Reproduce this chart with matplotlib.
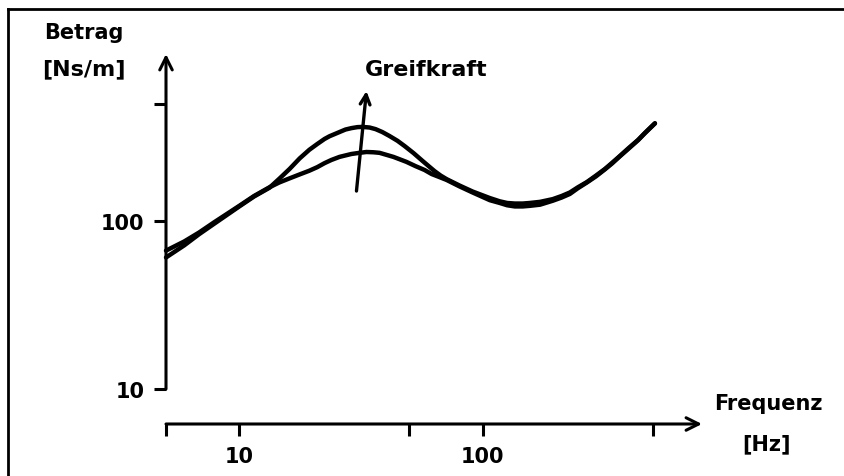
import matplotlib
matplotlib.use("Agg")
import matplotlib.pyplot as plt
from matplotlib.lines import Line2D

# ---- data ----
freq_hi = [5, 5.94, 6.84, 7.89, 10, 11.5, 13.3, 14.6, 16.1, 17.7,
           19.4, 20.9, 22.4, 23.5, 25.8, 27.3, 28.9, 30.6, 32.1, 34.3,
           36.3, 38.7, 41.4, 44.7, 47.8, 52.0, 56.6, 60.0, 63.4, 67.2,
           71.1, 80.3, 90.9, 107, 117.5, 126, 135.5, 146, 156, 172,
           194, 211, 228, 246, 268, 292, 318, 340, 366, 395,
           435, 464, 510]
betrag_hi = [61, 72, 84, 97, 123, 141, 159, 180, 206, 238,
             268, 290, 311, 323, 342, 354, 361, 366, 367, 364,
             356, 342, 324, 303, 282, 256, 230, 214, 200, 188,
             179, 164, 151, 138, 132, 129, 128, 128, 129, 131,
             136, 142, 149, 160, 172, 188, 206, 224, 246, 272,
             307, 338, 386]

freq_lo = [5, 5.94, 6.84, 7.89, 10, 11.5, 13.3, 14.6, 16.1, 17.7,
           19.4, 20.9, 22.4, 23.9, 25.8, 27.3, 28.9, 31.2, 33.3, 35.6,
           37.7, 43.0, 48.6, 53.0, 57.7, 61.7, 66.5, 71.1, 80.3, 90.9,
           107, 117.5, 126, 135.5, 146, 156, 172, 194, 211, 228,
           246, 268, 292, 318, 340, 366, 395, 435, 464, 510]
betrag_lo = [67, 76, 86, 99, 124, 142, 160, 171, 181, 191,
             201, 211, 223, 233, 243, 248, 253, 257, 260, 259,
             257, 243, 227, 214, 203, 192, 184, 177, 162, 149,
             134, 129, 125, 123, 123, 124, 126, 133, 139, 146,
             158, 171, 186, 205, 222, 245, 270, 306, 337, 385]

x_ticks = [5, 10, 50, 100, 500]
x_ticklabels = ["", "10", "", "100", ""]
y_ticks = [10, 100, 500]
y_ticklabels = ["10", "100", ""]

xlim = (5, 796)
ylim = (6.18, 1000)

W, H = 844, 477
fig = plt.figure(figsize=(W / 100, H / 100), dpi=100)
ax = fig.add_axes([166 / W, 1 - 425 / H, (702 - 166) / W, (425 - 55) / H])
ax.set_xscale("log")
ax.set_yscale("log")
ax.set_xlim(*xlim)
ax.set_ylim(*ylim)
for s in ax.spines.values():
    s.set_visible(False)
ax.patch.set_visible(False)

lw_axis = 2.2
ax.minorticks_off()
ax.set_xticks(x_ticks)
ax.set_xticklabels(x_ticklabels, fontsize=15, fontweight="bold")
ax.set_yticks(y_ticks)
ax.set_yticklabels(y_ticklabels, fontsize=15, fontweight="bold")
ax.tick_params(axis="both", which="major", direction="out", length=8.6,
               width=lw_axis, color="black", labelcolor="black")
ax.tick_params(axis="x", pad=7)
ax.tick_params(axis="y", pad=7)
ax.minorticks_off()

# axis lines with open arrow heads
arrow_kw = dict(arrowstyle="->,head_length=0.9,head_width=0.45", lw=lw_axis,
                color="black", shrinkA=0, shrinkB=0)
ax.annotate("", xy=(xlim[0], ylim[1]), xytext=(xlim[0], 10),
            arrowprops=arrow_kw, annotation_clip=False)
ax.annotate("", xy=(xlim[1], ylim[0]), xytext=(xlim[0], ylim[0]),
            arrowprops=arrow_kw, annotation_clip=False)

# curves
ax.plot(freq_hi, betrag_hi, color="black", lw=3.2, solid_capstyle="round",
        solid_joinstyle="round", clip_on=False)
ax.plot(freq_lo, betrag_lo, color="black", lw=3.2, solid_capstyle="round",
        solid_joinstyle="round", clip_on=False)

# Greifkraft arrow
ax.annotate("", xy=(33.3, 601), xytext=(30.3, 152),
            arrowprops=dict(arrowstyle="->,head_length=0.7,head_width=0.35",
                            lw=2.4, color="black", shrinkA=0, shrinkB=0))

def ftext(x, y, s, size=15, **kw):
    fig.text(x / W, 1 - y / H, s, ha="center", va="center",
             fontsize=size, fontweight="bold", color="black", **kw)

ftext(84, 33, "Betrag")
ftext(84, 69, "[Ns/m]", size=16)
ftext(426, 70, "Greifkraft", size=16)
ftext(768, 404, "Frequenz")
ftext(767, 444, "[Hz]")

# scan frame (left and top edges)
fig.add_artist(Line2D([8 / W, 8 / W], [0, 1 - 10 / H], color="black", lw=2.0,
                      transform=fig.transFigure))
fig.add_artist(Line2D([8 / W, 1], [1 - 10 / H, 1 - 10 / H], color="black", lw=2.0,
                      transform=fig.transFigure))

fig.savefig("out.png", dpi=100)
